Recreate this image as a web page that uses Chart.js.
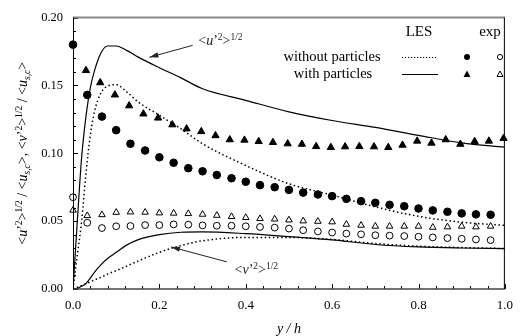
<!DOCTYPE html>
<html>
<head>
<meta charset="utf-8">
<script src="https://cdn.jsdelivr.net/npm/chart.js@4.4.1/dist/chart.umd.min.js"></script>
<style>
html, body { margin: 0; padding: 0; background: #fff; }
</style>
</head>
<body>
<canvas id="profileChart" width="522" height="336"></canvas>
<script>
// experimental stations (y/h)
var expX = [0, 0.033, 0.067, 0.1, 0.133, 0.167, 0.2, 0.233, 0.267, 0.3, 0.333, 0.367, 0.4, 0.433, 0.467,
    0.5, 0.533, 0.567, 0.6, 0.633, 0.667, 0.7, 0.733, 0.767, 0.8, 0.833, 0.867, 0.9, 0.933, 0.967];
var expTriX = [0.03, 0.063, 0.097, 0.13, 0.163, 0.197, 0.23, 0.263, 0.297, 0.33, 0.363, 0.397, 0.43, 0.463, 0.497,
    0.53, 0.563, 0.597, 0.63, 0.663, 0.697, 0.73, 0.763, 0.797, 0.83, 0.863, 0.897, 0.93, 0.963, 0.997];

// exp, without particles
var expWithoutU = [0.180, 0.143, 0.127, 0.117, 0.107, 0.102, 0.097, 0.093, 0.089, 0.0867, 0.084, 0.0816, 0.079, 0.0765, 0.075,
    0.073, 0.071, 0.0696, 0.0684, 0.0664, 0.0647, 0.0635, 0.062, 0.061, 0.0593, 0.0579, 0.0569, 0.0557, 0.055, 0.0547];
var expWithoutV = [0.0676, 0.0488, 0.0449, 0.0462, 0.0464, 0.0471, 0.0471, 0.0476, 0.0474, 0.0469, 0.0466, 0.0466, 0.0462, 0.0457, 0.0452,
    0.0445, 0.0433, 0.0424, 0.0416, 0.0408, 0.0403, 0.0396, 0.0393, 0.039, 0.0385, 0.038, 0.0375, 0.037, 0.0365, 0.036];
// exp, with particles
var expWithU = [0.161, 0.152, 0.143, 0.135, 0.129, 0.126, 0.121, 0.118, 0.116, 0.113, 0.110, 0.1097, 0.1087, 0.108, 0.107,
    0.1067, 0.105, 0.1043, 0.1048, 0.105, 0.1048, 0.1043, 0.106, 0.109, 0.1075, 0.110, 0.1067, 0.1087, 0.109, 0.111];
var expWithV = [0.058, 0.054, 0.0547, 0.0564, 0.0567, 0.0565, 0.056, 0.0558, 0.0555, 0.055, 0.0542, 0.0533, 0.0526, 0.0518, 0.0515,
    0.0508, 0.0501, 0.0498, 0.0494, 0.0476, 0.0469, 0.0462, 0.0462, 0.0462, 0.0462, 0.0454, 0.0457, 0.0462, 0.0457, 0.0462];

// LES profiles
var lesX = [0, 0.01, 0.02, 0.03, 0.04, 0.05, 0.065, 0.08, 0.1, 0.125, 0.15, 0.2, 0.25, 0.3, 0.4, 0.5, 0.6, 0.7, 0.8, 0.9, 1.0];
var lesWithoutU = [0, 0.025, 0.05, 0.085, 0.113, 0.131, 0.1445, 0.1495, 0.1505, 0.145, 0.138, 0.128, 0.118, 0.107, 0.091,
    0.0775, 0.0692, 0.0605, 0.0535, 0.0492, 0.0469];
var lesWithU = [0, 0.05, 0.097, 0.127, 0.148, 0.161, 0.174, 0.179, 0.179, 0.1756, 0.171, 0.163, 0.1555, 0.1475, 0.139,
    0.1305, 0.1241, 0.119, 0.1132, 0.1076, 0.1045];
var lesWithoutV = [0, 0.0013, 0.0026, 0.004, 0.0053, 0.0067, 0.0086, 0.011, 0.0135, 0.017, 0.0205, 0.027, 0.032, 0.0355, 0.038,
    0.038, 0.0365, 0.0335, 0.0315, 0.0305, 0.0298];
var lesWithV = [0, 0.0005, 0.002, 0.004, 0.008, 0.0125, 0.018, 0.0225, 0.027, 0.0325, 0.0362, 0.040, 0.0418, 0.0421, 0.0408,
    0.0386, 0.0362, 0.0328, 0.031, 0.0302, 0.0298];

var xTicks = [0, 0.2, 0.4, 0.6, 0.8, 1.0];
var yTicks = [0, 0.05, 0.10, 0.15, 0.20];

var SERIF = '"Liberation Serif", "Times New Roman", serif';

function pts(xs, ys) {
    return xs.map(function(x, i) { return { x: x, y: ys[i] }; });
}

function lineSet(xs, ys, dotted) {
    return {
        data: pts(xs, ys), showLine: true, pointRadius: 0, borderColor: '#000',
        borderWidth: dotted ? 1.5 : 1.2, borderDash: dotted ? [1.5, 2.6] : [],
        cubicInterpolationMode: 'monotone', fill: false
    };
}

function pointSet(xs, ys, style, filled, r) {
    return {
        data: pts(xs, ys), showLine: false, pointStyle: style, pointRadius: r,
        backgroundColor: filled ? '#000' : '#fff', borderColor: '#000', borderWidth: 1, clip: false
    };
}

// rich text: [text, kind] kind = n (normal), i (italic), sup, subi
function setFont(ctx, kind, size) {
    var sz = (kind === 'sup' || kind === 'subi') ? size * 0.68 : size;
    var it = (kind === 'i' || kind === 'subi') ? 'italic ' : '';
    ctx.font = it + sz + 'px ' + SERIF;
}
function richWidth(ctx, segs, size) {
    var w = 0;
    segs.forEach(function(s) { setFont(ctx, s[1], size); w += ctx.measureText(s[0]).width; });
    return w;
}
function drawRich(ctx, segs, x, y, size) {
    segs.forEach(function(s) {
        setFont(ctx, s[1], size);
        var dy = 0;
        if (s[1] === 'sup') dy = -size * 0.38;
        if (s[1] === 'subi') dy = size * 0.22;
        ctx.fillText(s[0], x, y + dy);
        x += ctx.measureText(s[0]).width;
    });
}

var uLabel = [['<', 'n'], ['u', 'i'], ['\u2019', 'n'], ['2', 'sup'], ['>', 'n'], ['1/2', 'sup']];
var vLabel = [['<', 'n'], ['v', 'i'], ['\u2019', 'n'], ['2', 'sup'], ['>', 'n'], ['1/2', 'sup']];
var yTitle = uLabel.concat([[' / <', 'n'], ['u', 'i'], ['s,c', 'subi'], ['>, ', 'n']])
    .concat(vLabel).concat([[' / <', 'n'], ['u', 'i'], ['s,c', 'subi'], ['>', 'n']]);

function arrow(ctx, x1, y1, x2, y2) {
    ctx.beginPath(); ctx.moveTo(x1, y1); ctx.lineTo(x2, y2); ctx.stroke();
    var ang = Math.atan2(y2 - y1, x2 - x1), L = 9, W = 2.6;
    ctx.beginPath();
    ctx.moveTo(x2, y2);
    ctx.lineTo(x2 - L * Math.cos(ang) + W * Math.sin(ang), y2 - L * Math.sin(ang) - W * Math.cos(ang));
    ctx.lineTo(x2 - L * Math.cos(ang) - W * Math.sin(ang), y2 - L * Math.sin(ang) + W * Math.cos(ang));
    ctx.closePath(); ctx.fill();
}

var decor = {
    id: 'decor',
    afterDraw: function(chart) {
        var ctx = chart.ctx, a = chart.chartArea, xs = chart.scales.x, ys = chart.scales.y;
        ctx.save();
        ctx.strokeStyle = '#000'; ctx.fillStyle = '#000'; ctx.lineWidth = 1;

        // inward ticks
        var i, p;
        for (i = 0; i <= 20; i++) {
            p = Math.round(ys.getPixelForValue(i / 100)) + 0.5;
            ctx.beginPath(); ctx.moveTo(a.left, p); ctx.lineTo(a.left + (i % 5 === 0 ? 5 : 3), p); ctx.stroke();
        }
        for (i = 0; i <= 25; i++) {
            p = Math.round(xs.getPixelForValue(i * 0.04)) + 0.5;
            ctx.beginPath(); ctx.moveTo(p, a.bottom); ctx.lineTo(p, a.bottom - (i % 5 === 0 ? 5 : 3)); ctx.stroke();
        }

        // frame
        ctx.strokeStyle = '#888'; ctx.lineWidth = 2;
        ctx.beginPath(); ctx.moveTo(a.left, a.top); ctx.lineTo(a.right, a.top); ctx.stroke();
        ctx.strokeStyle = '#444'; ctx.lineWidth = 1.6;
        ctx.beginPath(); ctx.moveTo(a.left, a.bottom); ctx.lineTo(a.right, a.bottom); ctx.stroke();
        ctx.strokeStyle = '#000'; ctx.lineWidth = 1;
        ctx.beginPath(); ctx.moveTo(a.left + 0.5, a.top); ctx.lineTo(a.left + 0.5, a.bottom); ctx.stroke();
        ctx.beginPath(); ctx.moveTo(a.right - 0.5, a.top); ctx.lineTo(a.right - 0.5, a.bottom); ctx.stroke();

        // legend
        ctx.textBaseline = 'middle';
        ctx.font = '15px ' + SERIF;
        ctx.textAlign = 'center';
        ctx.fillText('LES', 419, 32);
        ctx.fillText('exp', 490, 32);
        ctx.font = '14.5px ' + SERIF;
        ctx.fillText('without particles', 332, 57);
        ctx.fillText('with particles', 333, 74);
        ctx.lineWidth = 1.2;
        ctx.setLineDash([1.2, 1.8]);
        ctx.beginPath(); ctx.moveTo(402, 57.5); ctx.lineTo(438, 57.5); ctx.stroke();
        ctx.setLineDash([]);
        ctx.beginPath(); ctx.moveTo(402, 74.5); ctx.lineTo(438, 74.5); ctx.stroke();
        ctx.lineWidth = 1;
        ctx.beginPath(); ctx.arc(467, 57, 3, 0, Math.PI * 2); ctx.fill();
        ctx.beginPath(); ctx.arc(500, 57, 2.6, 0, Math.PI * 2); ctx.stroke();
        ctx.beginPath(); ctx.moveTo(467, 70.5); ctx.lineTo(470.5, 77); ctx.lineTo(463.5, 77); ctx.closePath(); ctx.fill();
        ctx.beginPath(); ctx.moveTo(500, 71); ctx.lineTo(503, 76.5); ctx.lineTo(497, 76.5); ctx.closePath(); ctx.stroke();

        // annotations
        ctx.textAlign = 'left'; ctx.textBaseline = 'alphabetic';
        ctx.fillStyle = '#222'; ctx.strokeStyle = '#222'; ctx.lineWidth = 1;
        drawRich(ctx, uLabel, xs.getPixelForValue(0.29), ys.getPixelForValue(0.1795), 14);
        arrow(ctx, xs.getPixelForValue(0.277), ys.getPixelForValue(0.1795),
            xs.getPixelForValue(0.177), ys.getPixelForValue(0.1707));
        drawRich(ctx, vLabel, xs.getPixelForValue(0.374), ys.getPixelForValue(0.011), 14);
        arrow(ctx, xs.getPixelForValue(0.356), ys.getPixelForValue(0.020),
            xs.getPixelForValue(0.227), ys.getPixelForValue(0.031));

        // axis titles
        ctx.fillStyle = '#000';
        ctx.textAlign = 'center'; ctx.textBaseline = 'middle';
        ctx.font = 'italic 14px ' + SERIF;
        ctx.fillText('y / h', (a.left + a.right) / 2, 329);

        ctx.textAlign = 'left'; ctx.textBaseline = 'alphabetic';
        var sz = 14, w = richWidth(ctx, yTitle, sz);
        ctx.translate(27, (a.top + a.bottom) / 2);
        ctx.rotate(-Math.PI / 2);
        drawRich(ctx, yTitle, -w / 2, 0, sz);
        ctx.restore();
    }
};

new Chart(document.getElementById('profileChart'), {
    type: 'scatter',
    data: {
        datasets: [
            pointSet(expX, expWithoutU, 'circle', true, 3.8),
            pointSet(expTriX, expWithU, 'triangle', true, 4.2),
            pointSet(expX, expWithoutV, 'circle', false, 3.4),
            pointSet(expX, expWithV, 'triangle', false, 3.8),
            lineSet(lesX, lesWithoutU, true),
            lineSet(lesX, lesWithU, false),
            lineSet(lesX, lesWithoutV, true),
            lineSet(lesX, lesWithV, false)
        ]
    },
    options: {
        responsive: false,
        animation: false,
        layout: { padding: { top: 16, right: 8, left: 0, bottom: 0 } },
        plugins: { legend: { display: false }, tooltip: { enabled: false } },
        scales: {
            x: {
                type: 'linear', min: 0, max: 1,
                afterFit: function(s) { s.height = 47; },
                afterBuildTicks: function(s) { s.ticks = xTicks.map(function(v) { return { value: v }; }); },
                ticks: {
                    padding: 9, color: '#000', font: { family: SERIF, size: 13 },
                    callback: function(v) { return v.toFixed(1); }
                },
                grid: { display: false, drawTicks: false },
                border: { display: false }
            },
            y: {
                min: 0, max: 0.2,
                afterFit: function(s) { s.width = 73; },
                afterBuildTicks: function(s) { s.ticks = yTicks.map(function(v) { return { value: v }; }); },
                ticks: {
                    padding: 10, color: '#000', font: { family: SERIF, size: 12.5 },
                    callback: function(v) { return v.toFixed(2); }
                },
                grid: { display: false, drawTicks: false },
                border: { display: false }
            }
        }
    },
    plugins: [decor]
});
</script>
</body>
</html>
